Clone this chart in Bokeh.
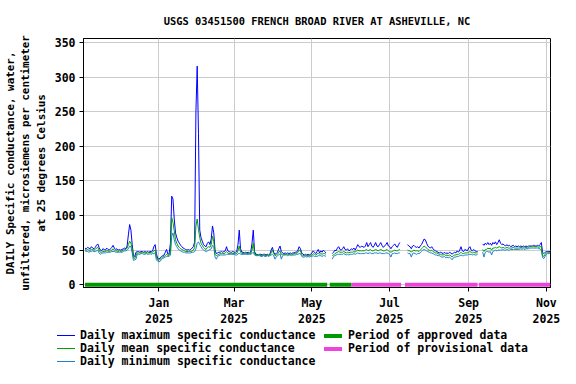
import numpy as np
import pandas as pd
from datetime import datetime
from bokeh.plotting import figure
from bokeh.layouts import column
from bokeh.models import (ColumnDataSource, Range1d, FixedTicker, DatetimeTickFormatter, Div)
from bokeh.embed import file_html
from bokeh.resources import INLINE

FONT = "DejaVu Sans Mono"
N = None

title_text = "USGS 03451500 FRENCH BROAD RIVER AT ASHEVILLE, NC"
y_label = ("DAILY Specific conductance, water,\n"
           "unfiltered, microsiemens per centimeter\n"
           "at 25 degrees Celsius")
start_date = "2024-11-04"

# Daily values, one per day from 2024-11-04 (None = no data)
daily_max = [
    53, 52, 54, 53, 52, 55, 53, 52, 54, 57,    # 0
    59, 54, 50, 49, 52, 51, 50, 53, 51, 50,    # 10
    52, 54, 57, 53, 51, 52, 50, 51, 50, 51,    # 20
    52, 53, 52, 56, 72, 87, 79, 58, 42, 41,    # 30
    47, 48, 48, 47, 48, 48, 47, 48, 47, 48,    # 40
    47, 48, 48, 49, 55, 58, 45, 38, 37, 39,    # 50
    41, 42, 43, 47, 51, 44, 45, 60, 128, 124,  # 60
    95, 75, 68, 63, 60, 57, 55, 53, 52, 51,    # 70
    50, 51, 50, 51, 53, 55, 62, 251, 316, 219, # 80
    79, 68, 63, 58, 56, 55, 60, 62, 58, 66,    # 90
    85, 75, 50, 45, 46, 47, 47, 48, 47, 48,    # 100
    49, 55, 49, 48, 47, 47, 48, 47, 47, 48,    # 110
    58, 79, 52, 47, 47, 46, 47, 46, 47, 46,    # 120
    47, 60, 79, 48, 44, 44, 43, 44, 44, 43,    # 130
    44, 44, 43, 44, 43, 44, 50, 54, 47, 44,    # 140
    45, 47, 52, 56, 48, 46, 45, 46, 45, 46,    # 150
    45, 46, 45, 46, 46, 47, 47, 50, 55, 52,    # 160
    46, 44, 43, 44, 43, 44, 43, 44, 46, 49,    # 170
    47, 45, 48, 51, 46, 49, 47, 50, 48, 46,    # 180
    N, N, N, N, 45, 47, 50, 49, 53, 55,        # 190
    51, 50, 52, 55, 51, 50, 52, 49, 50, 52,    # 200
    51, 53, 50, 54, 58, 55, 54, 56, 55, 54,    # 210
    56, 61, 55, 58, 61, 56, 54, 57, 61, 56,    # 220
    55, 58, 61, 57, 54, 56, 58, 61, 56, 55,    # 230
    52, 55, 57, 59, 56, 54, 58, 61, N, N,      # 240
    N, N, N, 58, 56, 55, 52, 56, 57, 55,       # 250
    54, 55, 53, 56, 58, 62, 66, 65, 60, 56,    # 260
    54, 53, 55, 52, 50, 49, 48, 47, 46, 47,    # 270
    46, 45, 47, 45, 46, 45, 47, 46, 44, 46,    # 280
    47, 46, 49, 47, 50, 55, 49, 48, 51, 50,    # 290
    49, 53, 55, 50, 49, 51, 49, 48, 48, N,     # 300
    N, N, 59, 57, 60, 58, 61, 58, 60, 57,      # 310
    61, 59, 62, 58, 61, 65, 60, 58, 59, 57,    # 320
    56, 58, 56, 57, 55, 56, 57, 55, 56, 55,    # 330
    56, 55, 56, 55, 56, 55, 56, 55, 56, 56,    # 340
    56, 56, 57, 56, 56, 57, 56, 58, 61, 47,    # 350
    45, 47, 48, 48, 48, 48,                    # 360
]
daily_mean = [
    51, 50, 51, 50, 50, 51, 51, 50, 51, 53,
    54, 50, 47, 47, 48, 48, 48, 49, 49, 48,
    49, 50, 52, 50, 49, 49, 48, 49, 48, 49,
    50, 51, 51, 53, 58, 63, 60, 52, 39, 38,
    43, 46, 46, 46, 46, 47, 46, 46, 46, 46,
    46, 47, 46, 47, 49, 50, 40, 36, 35, 37,
    39, 40, 41, 42, 44, 42, 43, 48, 97, 90,
    78, 65, 60, 56, 54, 52, 51, 50, 49, 48,
    48, 48, 48, 48, 49, 50, 54, 85, 95, 80,
    68, 60, 57, 54, 52, 51, 54, 55, 54, 58,
    70, 63, 44, 42, 43, 44, 45, 45, 45, 45,
    46, 48, 46, 45, 45, 45, 45, 45, 45, 45,
    49, 56, 47, 45, 45, 45, 45, 45, 45, 45,
    45, 50, 60, 45, 43, 43, 43, 43, 42, 42,
    43, 42, 42, 43, 42, 43, 46, 50, 45, 42,
    43, 44, 47, 49, 44, 44, 44, 44, 44, 44,
    44, 44, 44, 44, 45, 45, 45, 47, 50, 49,
    44, 42, 42, 42, 42, 42, 42, 42, 43, 45,
    44, 43, 44, 46, 44, 45, 44, 45, 45, 44,
    N, N, N, N, 42, 43, 45, 46, 47, 48,
    47, 47, 47, 48, 47, 46, 47, 46, 47, 47,
    47, 48, 47, 49, 50, 49, 49, 49, 49, 49,
    50, 51, 49, 50, 51, 49, 49, 50, 51, 50,
    49, 50, 51, 50, 49, 49, 50, 51, 49, 48,
    47, 48, 49, 50, 49, 49, 50, 51, N, N,
    N, N, N, 50, 49, 49, 47, 49, 50, 49,
    49, 49, 48, 50, 52, 54, 56, 55, 53, 51,
    50, 49, 50, 48, 47, 46, 46, 45, 44, 44,
    43, 43, 44, 42, 43, 42, 43, 42, 40, 42,
    43, 43, 44, 44, 45, 47, 45, 45, 46, 46,
    46, 47, 48, 47, 46, 47, 46, 46, 46, N,
    N, N, 51, 48, 51, 51, 53, 52, 53, 50,
    53, 53, 54, 53, 54, 55, 54, 53, 54, 53,
    53, 54, 53, 53, 53, 53, 54, 53, 53, 53,
    53, 53, 54, 53, 54, 53, 54, 53, 54, 55,
    55, 55, 55, 55, 55, 55, 54, 55, 55, 42,
    41, 44, 46, 47, 47, 47,
]
daily_min = [
    49, 48, 48, 47, 48, 48, 49, 48, 48, 49,
    50, 46, 44, 45, 46, 46, 46, 47, 47, 47,
    47, 48, 48, 48, 47, 47, 47, 47, 47, 47,
    48, 49, 49, 50, 52, 56, 55, 46, 35, 36,
    37, 44, 44, 44, 45, 45, 44, 44, 45, 44,
    44, 45, 44, 45, 45, 46, 36, 34, 33, 34,
    37, 38, 39, 40, 41, 41, 41, 43, 70, 75,
    65, 58, 55, 52, 50, 49, 48, 47, 47, 46,
    46, 46, 46, 46, 47, 47, 48, 52, 60, 62,
    58, 55, 52, 50, 49, 48, 49, 50, 51, 52,
    57, 55, 40, 37, 41, 42, 43, 43, 43, 43,
    43, 44, 44, 44, 44, 44, 44, 44, 43, 43,
    44, 46, 44, 44, 44, 44, 44, 44, 44, 44,
    44, 45, 47, 43, 42, 42, 42, 42, 41, 41,
    42, 41, 41, 42, 41, 42, 43, 44, 42, 37,
    40, 42, 43, 45, 37, 42, 43, 43, 43, 42,
    43, 43, 42, 43, 43, 43, 44, 44, 45, 45,
    41, 40, 40, 41, 40, 41, 40, 41, 41, 42,
    41, 41, 41, 42, 42, 42, 41, 42, 42, 41,
    N, N, N, N, 37, 41, 42, 43, 44, 44,
    44, 44, 44, 45, 44, 43, 44, 43, 44, 44,
    44, 45, 44, 45, 46, 45, 45, 45, 45, 45,
    46, 46, 45, 46, 46, 45, 45, 46, 46, 46,
    45, 46, 46, 45, 45, 45, 46, 46, 45, 44,
    40, 45, 45, 46, 45, 45, 46, 46, N, N,
    N, N, N, 46, 45, 45, 40, 45, 46, 45,
    44, 45, 45, 46, 48, 50, 51, 50, 49, 48,
    47, 46, 46, 45, 44, 43, 43, 42, 42, 41,
    40, 40, 41, 39, 40, 39, 40, 38, 36, 39,
    40, 40, 41, 41, 42, 43, 42, 42, 43, 43,
    43, 44, 44, 44, 43, 44, 43, 43, 44, N,
    N, N, 47, 40, 47, 48, 48, 47, 48, 43,
    48, 49, 50, 49, 50, 50, 50, 50, 51, 50,
    50, 51, 50, 50, 51, 51, 51, 51, 51, 51,
    51, 51, 52, 51, 52, 51, 52, 52, 52, 53,
    53, 53, 53, 53, 53, 53, 52, 52, 50, 39,
    38, 41, 44, 45, 45, 46,
]

approved_start = ["2024-11-04", "2025-05-15"]
approved_end = ["2025-05-13", "2025-06-01"]
provisional_start = ["2025-06-01", "2025-07-13", "2025-09-09"]
provisional_end = ["2025-07-10", "2025-09-08", "2025-11-04"]

x_ticks = ["2025-01-01", "2025-03-01", "2025-05-01", "2025-07-01", "2025-09-01", "2025-11-01"]
y_ticks = [0, 50, 100, 150, 200, 250, 300, 350]

series_labels = ["Daily maximum specific conductance",
                 "Daily mean specific conductance",
                 "Daily minimum specific conductance"]
period_labels = ["Period of approved data", "Period of provisional data"]

C_MAX, C_MEAN, C_MIN = "#0000ff", "#00a000", "#1f80d0"
C_APPR, C_PROV = "#009900", "#ee44dd"

dates = pd.date_range(start_date, periods=len(daily_max), freq="D")
src = ColumnDataSource(dict(
    date=dates,
    mx=np.array(daily_max, dtype=float),
    mn=np.array(daily_mean, dtype=float),
    lo=np.array(daily_min, dtype=float),
))
appr = ColumnDataSource(dict(x0=pd.to_datetime(approved_start), x1=pd.to_datetime(approved_end),
                             y=[0] * len(approved_start)))
prov = ColumnDataSource(dict(x0=pd.to_datetime(provisional_start), x1=pd.to_datetime(provisional_end),
                             y=[0] * len(provisional_start)))

p = figure(width=560, height=329, x_axis_type="datetime",
           x_range=Range1d(datetime(2024, 11, 2, 19), datetime(2025, 11, 4, 5)),
           y_range=Range1d(-4, 356),
           output_backend="svg", toolbar_location=None,
           min_border_left=83, min_border_right=10, min_border_top=38, min_border_bottom=36,
           title=title_text)

p.title.align = "center"
p.title.text_font = FONT
p.title.text_font_size = "10.4px"
p.title.text_font_style = "bold"
p.title.text_color = "black"
p.title.standoff = 24

p.outline_line_color = "black"
p.outline_line_width = 1

to_ms = lambda s: pd.Timestamp(s).value // 10**6
p.xaxis.ticker = FixedTicker(ticks=[to_ms(t) for t in x_ticks])
fmt = "%b\n%Y"
p.xaxis.formatter = DatetimeTickFormatter(days=fmt, months=fmt, years=fmt, hours=fmt)
p.yaxis.ticker = FixedTicker(ticks=y_ticks)

for ax in (p.xaxis[0], p.yaxis[0]):
    ax.axis_line_color = "black"
    ax.major_tick_line_color = "black"
    ax.major_tick_out = 4
    ax.major_tick_in = 0
    ax.minor_tick_line_color = None
    ax.major_label_text_font = FONT
    ax.major_label_text_font_size = "11.5px"
    ax.major_label_text_font_style = "bold"
    ax.major_label_text_color = "black"
    ax.major_label_standoff = 4

p.yaxis.axis_label = y_label
p.yaxis.axis_label_text_font = FONT
p.yaxis.axis_label_text_font_size = "10.9px"
p.yaxis.axis_label_text_font_style = "bold"
p.yaxis.axis_label_text_color = "black"
p.yaxis.axis_label_standoff = 4

p.grid.grid_line_color = "#cccccc"
p.grid.grid_line_width = 1

p.line("date", "mx", source=src, color=C_MAX, line_width=1)
p.line("date", "lo", source=src, color=C_MIN, line_width=1)
p.line("date", "mn", source=src, color=C_MEAN, line_width=1)
p.segment(x0="x0", y0="y", x1="x1", y1="y", source=appr, color=C_APPR, line_width=4)
p.segment(x0="x0", y0="y", x1="x1", y1="y", source=prov, color=C_PROV, line_width=4)

# Legend strip below the chart (HTML text, fixed-width flex rows)
def swatch(color, thickness):
    inner = "" if color is None else (
        f'<div style="width:18px;height:{thickness}px;background:{color};"></div>')
    return (f'<div style="flex:none;width:18px;display:flex;align-items:center;'
            f'height:13px;">{inner}</div>')

def label(text, width=None, gap=5):
    w = f"width:{width}px;" if width else ""
    return (f'<div style="flex:none;{w}margin-left:{gap}px;white-space:nowrap;'
            f'line-height:13px;">{text}</div>')

left_items = list(zip([C_MAX, C_MEAN, C_MIN], [1, 1, 1], series_labels))
right_items = list(zip([C_APPR, C_PROV], [4, 4], period_labels)) + [(None, 0, "")]
rows_html = ""
for (c1, t1, l1), (c2, t2, l2) in zip(left_items, right_items):
    right = (swatch(c2, t2) + label(l2, gap=6)) if c2 else ""
    rows_html += (
        f'<div style="display:flex;align-items:center;height:13px;">'
        f'{swatch(c1, t1)}{label(l1, width=244)}{right}</div>'
    )
legend_html = (
    f'<div style="margin-left:57px;font-family:\'{FONT}\';font-weight:bold;'
    f'font-size:11.5px;color:black;">{rows_html}</div>'
)
legend_div = Div(text=legend_html, width=560, height=39, margin=(0, 0, 0, 0))

layout = column(p, legend_div, spacing=0)
open("out.html", "w").write(file_html(layout, INLINE))
